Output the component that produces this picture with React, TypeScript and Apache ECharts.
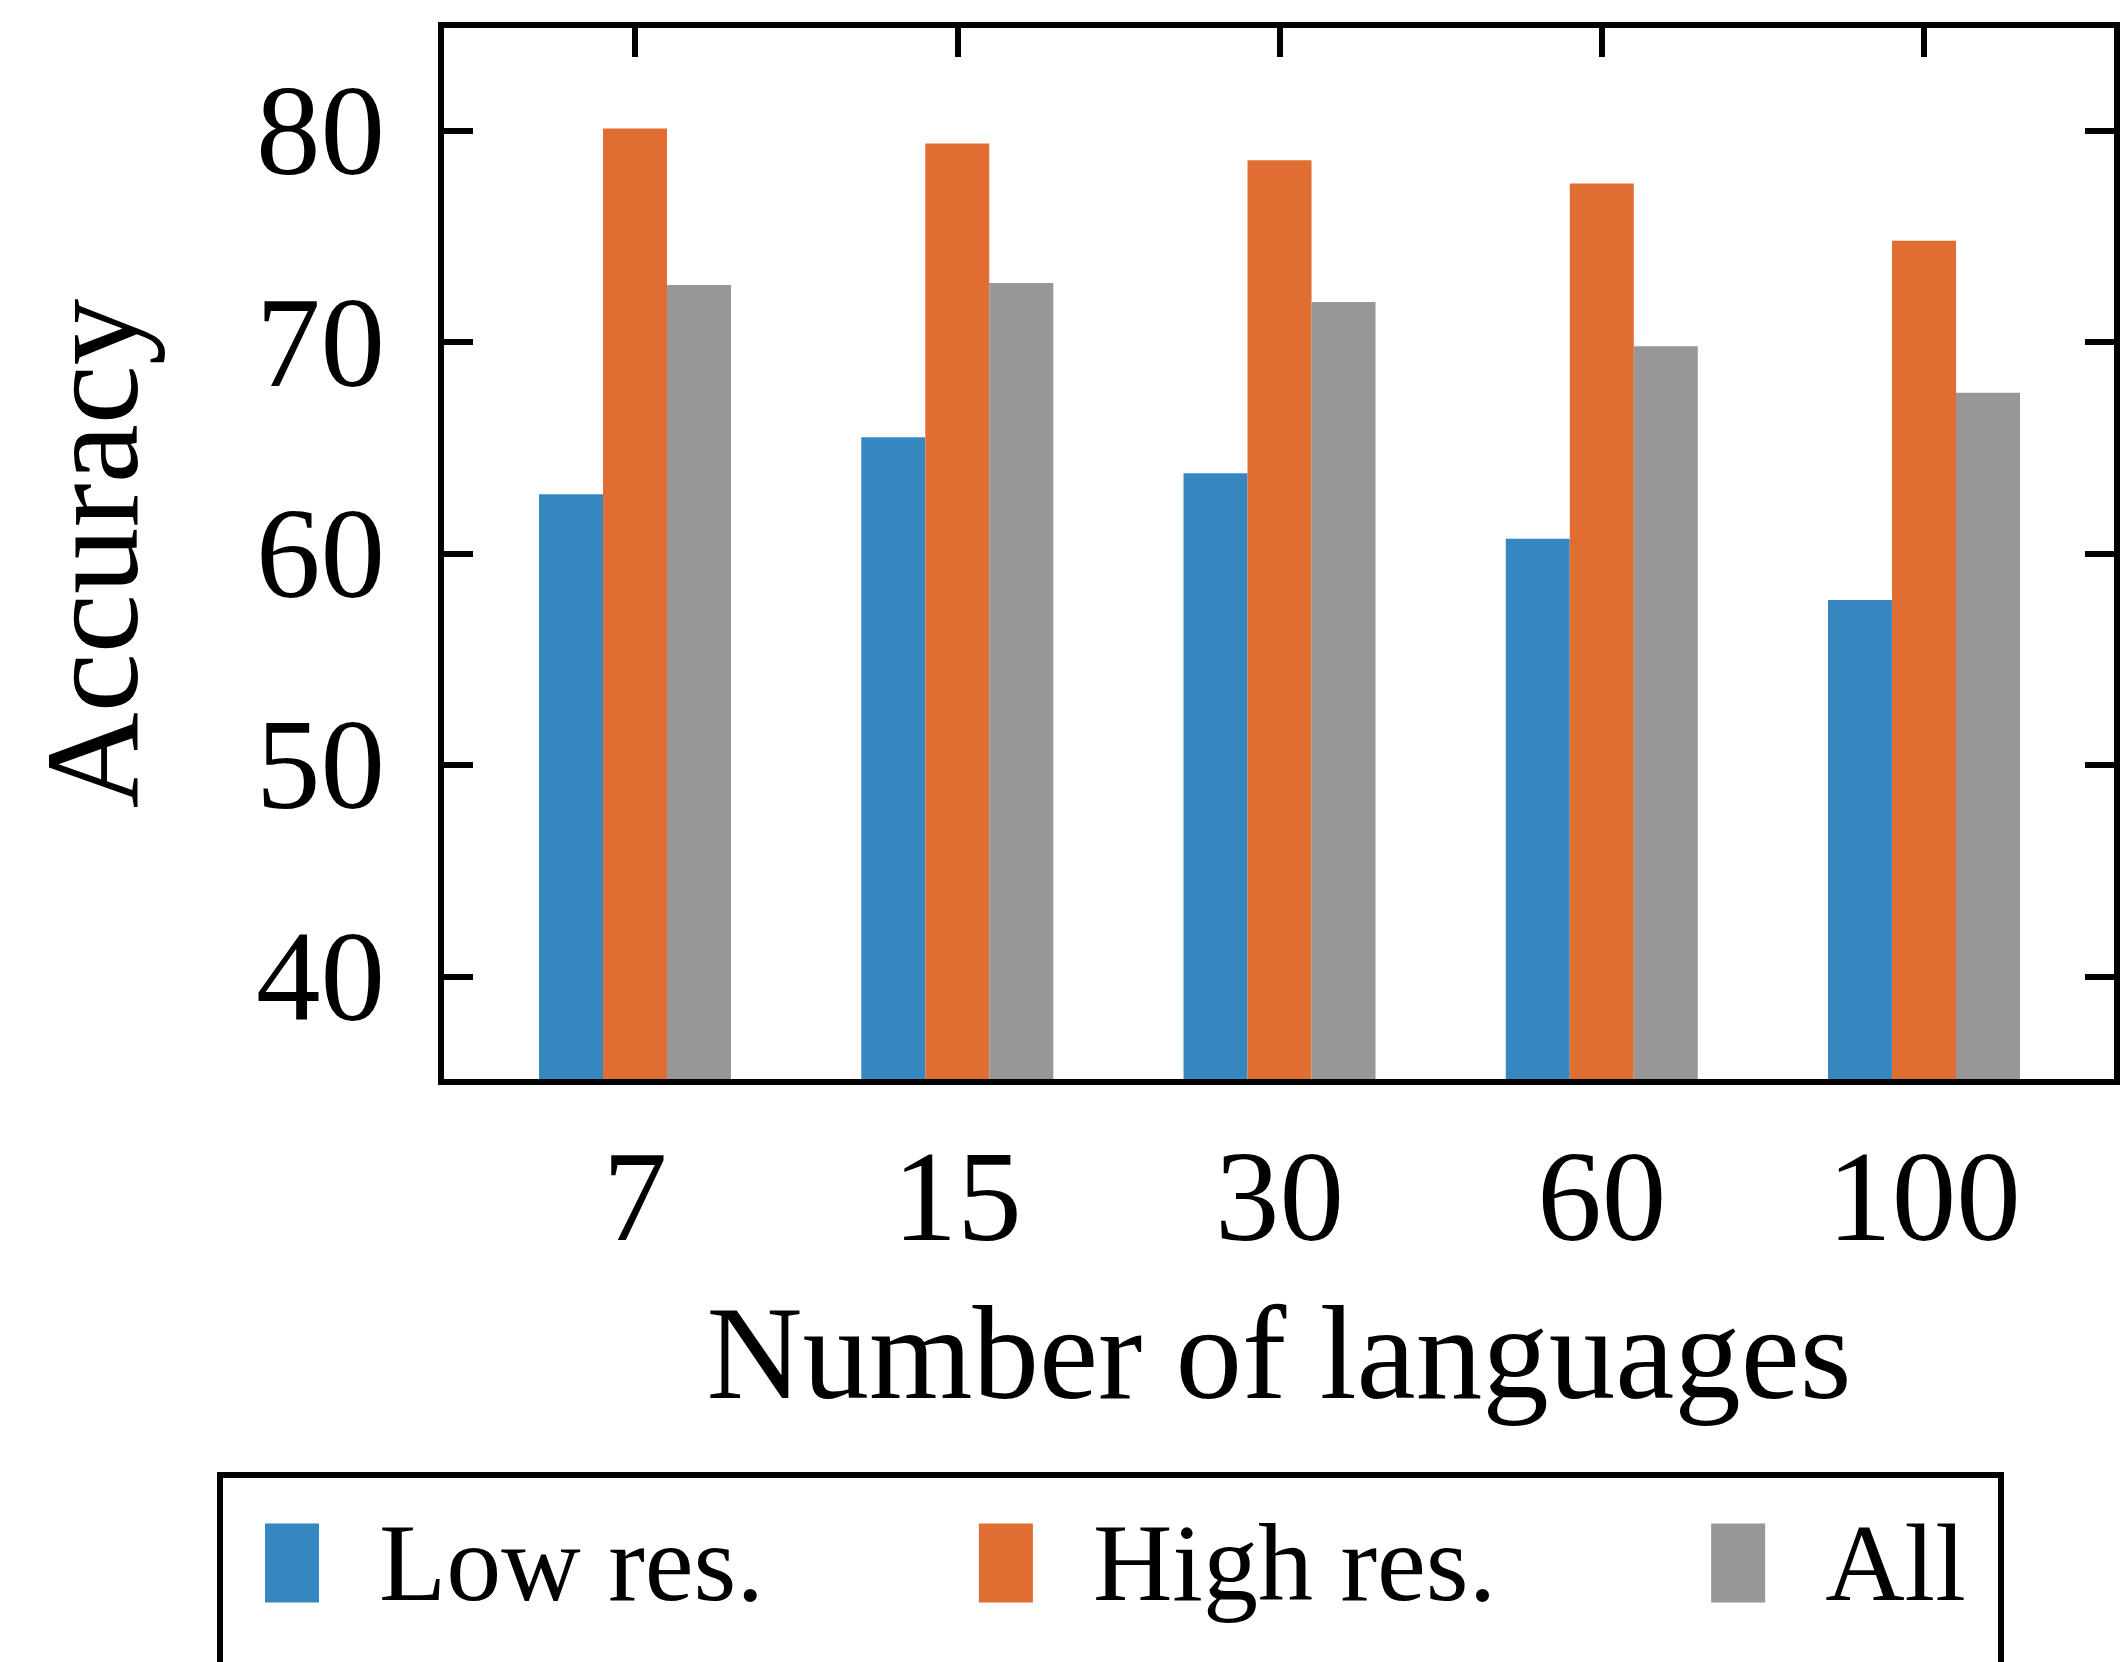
import React, { useEffect, useRef } from "react";
import * as echarts from "echarts";

const categories = ["7", "15", "30", "60", "100"];
const seriesNames = ["Low res.", "High res.", "All"];
const lowRes = [62.8, 65.5, 63.8, 60.7, 57.8];
const highRes = [80.1, 79.4, 78.6, 77.5, 74.8];
const allLangs = [72.7, 72.8, 71.9, 69.8, 67.6];
const colors = ["#3687c0", "#e06e33", "#979797"];
const yMin = 35;
const yMax = 85;

const FONT = "'Liberation Serif', 'Times New Roman', Times, serif";
const LINE = 6;

export default function App() {
  const ref = useRef<HTMLDivElement>(null);
  useEffect(() => {
    if (!ref.current) return;
    const chart = echarts.init(ref.current, null, { renderer: "svg" });
    const tickStyle = { color: "#000", width: LINE };
    const option: any = {
      animation: false,
      backgroundColor: "#fff",
      textStyle: { fontFamily: FONT },
      grid: [
        {
          left: 441,
          top: 25,
          width: 1676,
          height: 1057,
          show: true,
          borderColor: "#000",
          borderWidth: LINE,
          backgroundColor: "transparent",
          z: 10,
        },
        { left: 473.9, top: 25, width: 1611.25, height: 1057 },
      ],
      xAxis: [
        {
          gridIndex: 0,
          type: "value",
          min: 0,
          max: 1,
          axisLine: { show: false },
          axisTick: { show: false },
          axisLabel: { show: false },
          splitLine: { show: false },
          name: "Number of languages",
          nameLocation: "middle",
          nameGap: 204,
          nameTextStyle: { fontSize: 133, color: "#000", fontFamily: FONT },
        },
        {
          gridIndex: 1,
          type: "category",
          data: categories,
          position: "bottom",
          axisLine: { show: false },
          axisTick: { show: false },
          axisLabel: { fontSize: 129, color: "#000", margin: 50, fontFamily: FONT, interval: 0 },
        },
        {
          gridIndex: 1,
          type: "category",
          data: categories,
          position: "top",
          axisLine: { show: false },
          axisTick: { show: true, inside: true, alignWithLabel: true, length: 32, lineStyle: tickStyle },
          axisLabel: { show: false },
        },
      ],
      yAxis: [
        {
          gridIndex: 0,
          type: "value",
          min: yMin,
          max: yMax,
          splitNumber: 5,
          position: "left",
          axisLine: { show: false },
          axisTick: { show: true, inside: true, length: 32, lineStyle: tickStyle },
          axisLabel: {
            fontSize: 129,
            color: "#000",
            margin: 56,
            fontFamily: FONT,
            formatter: (v: number) => (v % 10 === 0 ? String(v) : ""),
          },
          splitLine: { show: false },
          name: "Accuracy",
          nameLocation: "middle",
          nameRotate: 90,
          nameGap: 283,
          nameTextStyle: { fontSize: 133, color: "#000", fontFamily: FONT },
        },
        {
          gridIndex: 0,
          type: "value",
          min: yMin,
          max: yMax,
          splitNumber: 5,
          position: "right",
          axisLine: { show: false },
          axisTick: { show: true, inside: true, length: 32, lineStyle: tickStyle },
          axisLabel: { show: false },
          splitLine: { show: false },
        },
        { gridIndex: 1, type: "value", min: yMin, max: yMax, show: false },
      ],
      legend: {
        left: 265,
        top: 1508,
        padding: 0,
        itemGap: 215,
        itemWidth: 54,
        itemHeight: 79,
        icon: "rect",
        data: seriesNames,
        textStyle: { fontSize: 110, color: "#000", fontFamily: FONT, padding: [0, 0, 0, 55] },
      },
      graphic: [
        {
          type: "rect",
          silent: true,
          shape: { x: 220, y: 1475, width: 1781, height: 400 },
          style: { fill: "none", stroke: "#000", lineWidth: LINE },
        },
      ],
      series: [lowRes, highRes, allLangs].map((d, i) => ({
        name: seriesNames[i],
        type: "bar",
        xAxisIndex: 1,
        yAxisIndex: 2,
        data: d,
        barWidth: 64,
        barGap: "0%",
        itemStyle: { color: colors[i] },
      })),
    };
    chart.setOption(option);
    return () => chart.dispose();
  }, []);
  return (
    <div
      ref={ref}
      style={{ position: "fixed", left: 0, top: 0, width: 2126, height: 1662, background: "#fff" }}
    />
  );
}
